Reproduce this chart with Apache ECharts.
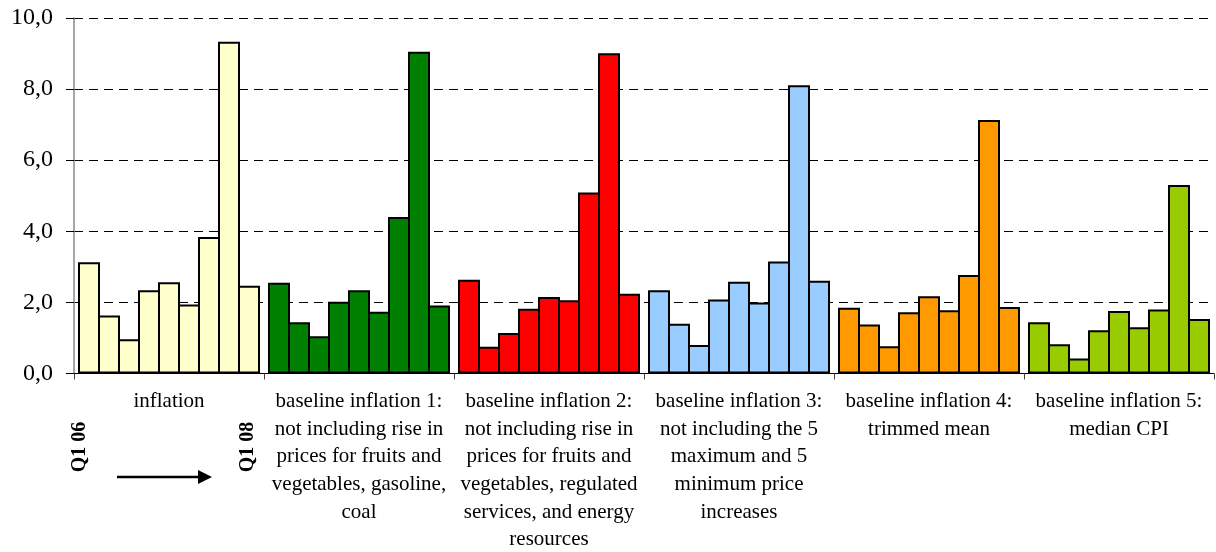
<!DOCTYPE html>
<html>
<head>
<meta charset="utf-8">
<script src="https://cdn.jsdelivr.net/npm/echarts@6/dist/echarts.min.js"></script>
<style>
html,body{margin:0;padding:0;background:#fff;}
#chart{width:1216px;height:552px;}
</style>
</head>
<body>
<div id="chart"></div>
<script>
// Category labels
const categories = [
  "inflation",
  "baseline inflation 1:\nnot including rise in\nprices for fruits and\nvegetables, gasoline,\ncoal",
  "baseline inflation 2:\nnot including rise in\nprices for fruits and\nvegetables, regulated\nservices, and energy\nresources",
  "baseline inflation 3:\nnot including the 5\nmaximum and 5\nminimum price\nincreases",
  "baseline inflation 4:\ntrimmed mean",
  "baseline inflation 5:\nmedian CPI"
];
// Quarterly values Q1 06 .. Q1 08 for each measure
const inflation = [3.13, 1.63, 0.96, 2.34, 2.57, 1.94, 3.84, 9.33, 2.47];
const baseline1 = [2.55, 1.44, 1.05, 2.02, 2.34, 1.74, 4.40, 9.05, 1.91];
const baseline2 = [2.64, 0.75, 1.14, 1.82, 2.15, 2.06, 5.09, 9.01, 2.24];
const baseline3 = [2.34, 1.40, 0.80, 2.08, 2.58, 2.00, 3.15, 8.11, 2.61];
const baseline4 = [1.85, 1.38, 0.77, 1.72, 2.17, 1.78, 2.77, 7.13, 1.87];
const baseline5 = [1.44, 0.82, 0.42, 1.22, 1.76, 1.30, 1.80, 5.30, 1.53];
const yTicks = [0, 2, 4, 6, 8, 10];

const groups = [inflation, baseline1, baseline2, baseline3, baseline4, baseline5];
const colors = ['#FFFFCC', '#008000', '#FF0000', '#99CCFF', '#FF9900', '#99CC00'];
const font = '"Liberation Serif", "Times New Roman", serif';

const series = [];
for (let i = 0; i < inflation.length; i++) {
  series.push({
    type: 'bar',
    barGap: '-9.0909%',
    barWidth: 22,
    data: groups.map((g, gi) => ({ value: g[i], itemStyle: { color: colors[gi] } })),
    itemStyle: { borderColor: '#000', borderWidth: 2 },
    emphasis: { disabled: true },
    animation: false
  });
}

const chart = echarts.init(document.getElementById('chart'));
chart.setOption({
  animation: false,
  backgroundColor: '#fff',
  grid: { left: 74, right: 2, top: 18, bottom: 178.5, containLabel: false, outerBoundsMode: 'none' },
  xAxis: {
    type: 'category',
    data: categories,
    axisLine: { lineStyle: { color: '#000', width: 1 } },
    axisTick: { show: true, length: 6, lineStyle: { color: '#444' } },
    axisLabel: {
      interval: 0,
      margin: 14,
      color: '#000',
      fontFamily: font,
      fontSize: 21,
      lineHeight: 27.7,
      align: 'center',
      verticalAlign: 'top'
    }
  },
  yAxis: {
    type: 'value',
    min: yTicks[0],
    max: yTicks[yTicks.length - 1],
    interval: 2,
    axisLine: { show: true, lineStyle: { color: '#888', width: 1.5 } },
    axisTick: { show: true, length: 8, lineStyle: { color: '#000' } },
    axisLabel: {
      margin: 21,
      color: '#000',
      fontFamily: font,
      fontSize: 24,
      formatter: v => v.toFixed(1).replace('.', ',')
    },
    splitLine: { show: true, lineStyle: { color: '#000', type: [9, 6], width: 1 } }
  },
  graphic: [
    {
      type: 'text', x: 80, y: 447, rotation: Math.PI / 2,
      style: { text: 'Q1 06', font: 'bold 20px ' + font, fill: '#000', align: 'center', verticalAlign: 'middle' }
    },
    {
      type: 'text', x: 248, y: 447, rotation: Math.PI / 2,
      style: { text: 'Q1 08', font: 'bold 20px ' + font, fill: '#000', align: 'center', verticalAlign: 'middle' }
    },
    {
      type: 'line',
      shape: { x1: 117, y1: 477, x2: 200, y2: 477 },
      style: { stroke: '#000', lineWidth: 2.5 }
    },
    {
      type: 'polygon',
      shape: { points: [[198, 470], [212, 477], [198, 484]] },
      style: { fill: '#000' }
    }
  ],
  series: series
});
</script>
</body>
</html>
